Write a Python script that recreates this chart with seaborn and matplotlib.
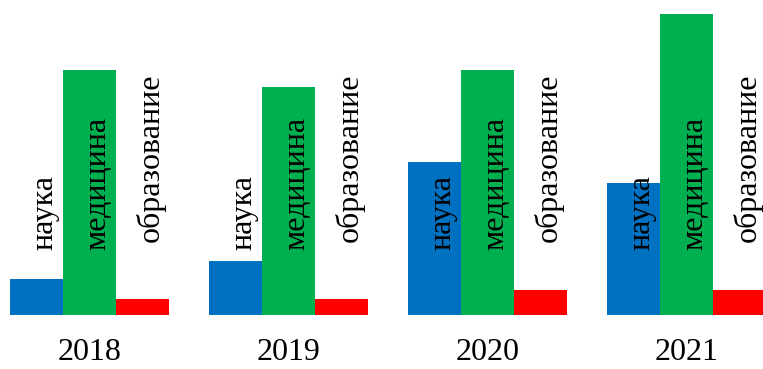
import matplotlib
matplotlib.use("Agg")
import matplotlib.pyplot as plt
import seaborn as sns
import pandas as pd

years = ["2018", "2019", "2020", "2021"]
categories = ["наука", "медицина", "образование"]
nauka = [36, 54, 153, 132]
meditsina = [245, 228, 245, 301]
obrazovanie = [16, 16, 25, 25]
colors = ["#0070C0", "#00B050", "#FF0000"]

rows = []
for cat, vals in zip(categories, [nauka, meditsina, obrazovanie]):
    for y, v in zip(years, vals):
        rows.append({"year": y, "category": cat, "value": v})
df = pd.DataFrame(rows)

sns.set_style("white")
plt.rcParams["font.family"] = ["Liberation Serif", "DejaVu Serif"]

fig = plt.figure(figsize=(7.63, 3.69), dpi=100)
ax = fig.add_axes([0, (369 - 314.7) / 369, 1, 314.7 / 369])
sns.barplot(data=df, x="year", y="value", hue="category", order=years,
            hue_order=categories, palette=colors, width=0.8, saturation=1,
            linewidth=0, edgecolor="none", legend=False, ax=ax)

left = -0.4 - 10 / 199
ax.set_xlim(left, left + 763 / 199)
ax.set_ylim(0, 314.7)
for s in ax.spines.values():
    s.set_visible(False)
ax.set_yticks([])
ax.set_xlabel("")
ax.set_ylabel("")
ax.tick_params(axis="x", length=0, pad=16.5, labelsize=23, labelcolor="black")

label_start = {"наука": 64.7, "медицина": 64.7, "образование": 72.7}
for cat, cont in zip(categories, ax.containers):
    for bar in cont:
        cx = bar.get_x() + bar.get_width() / 2
        ax.text(cx + 0.08, label_start[cat], cat, rotation=90,
                rotation_mode="anchor", ha="left", va="baseline",
                fontsize=23, color="black", clip_on=False)

fig.savefig("out.png", dpi=100)
